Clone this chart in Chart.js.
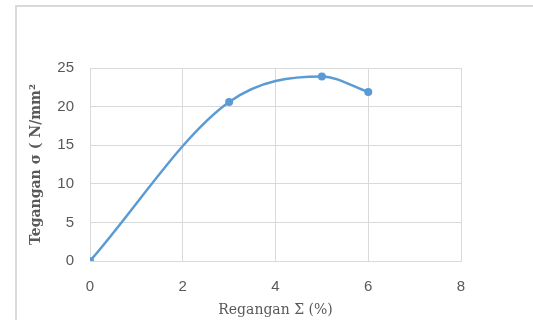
<!DOCTYPE html>
<html>
<head>
<meta charset="utf-8">
<script src="https://cdn.jsdelivr.net/npm/chart.js@4"></script>
<style>
  html, body { margin: 0; padding: 0; background: #fff; overflow: hidden; }
  #wrap { position: relative; width: 533px; height: 320px; overflow: hidden; }
  #frame { position: absolute; left: 15px; top: 5px; width: 560px; height: 360px;
           border-left: 2px solid #d9d9d9; border-top: 2px solid #d9d9d9; }
  canvas { position: absolute; left: 0; top: 0; }
</style>
</head>
<body>
<div id="wrap">
  <div id="frame"></div>
  <canvas id="chart" width="533" height="320"></canvas>
</div>
<script>
const strainPct = [0, 3, 5, 6];
const stressVals = [0, 20.6, 23.9, 21.9];
const xTicks = [0, 2, 4, 6, 8];
const yTicks = [0, 5, 10, 15, 20, 25];

const lineBlue = "#5b9bd5";
const gridGrey = "#d9d9d9";
const textGrey = "#595959";

const points = strainPct.map((x, i) => ({ x: x, y: stressVals[i] }));

const ctx = document.getElementById("chart").getContext("2d");
new Chart(ctx, {
  type: "scatter",
  data: {
    datasets: [{
      data: points,
      showLine: true,
      borderColor: lineBlue,
      backgroundColor: lineBlue,
      borderWidth: 2.5,
      pointRadius: 4,
      pointBorderWidth: 0,
      cubicInterpolationMode: "monotone",
    }],
  },
  options: {
    responsive: false,
    animation: false,
    layout: { padding: { left: 0, right: 72, top: 68, bottom: 0 } },
    plugins: { legend: { display: false }, tooltip: { enabled: false } },
    scales: {
      x: {
        type: "linear",
        min: 0,
        max: 8,
        afterBuildTicks: s => { s.ticks = xTicks.map(v => ({ value: v })); },
        afterFit: s => { s.height = 59; },
        grid: { color: gridGrey, lineWidth: 1, drawTicks: false },
        border: { color: gridGrey },
        ticks: { color: textGrey, padding: 17, font: { family: "Liberation Sans", size: 15 } },
        title: {
          display: true,
          text: "Regangan Σ (%)",
          color: textGrey,
          padding: { top: 0, bottom: 1 },
          font: { family: "DejaVu Serif", size: 14 },
        },
      },
      y: {
        type: "linear",
        min: 0,
        max: 25,
        afterBuildTicks: s => { s.ticks = yTicks.map(v => ({ value: v })); },
        afterFit: s => { s.width = 90; },
        grid: { color: gridGrey, lineWidth: 1, drawTicks: false },
        border: { color: gridGrey },
        ticks: { color: textGrey, padding: 16, font: { family: "Liberation Sans", size: 15 } },
        title: {
          display: true,
          text: "Tegangan σ ( N/mm²",
          color: textGrey,
          padding: { top: 28, bottom: 0 },
          font: { family: "DejaVu Serif", size: 14, weight: "bold" },
        },
      },
    },
  },
});
</script>
</body>
</html>
